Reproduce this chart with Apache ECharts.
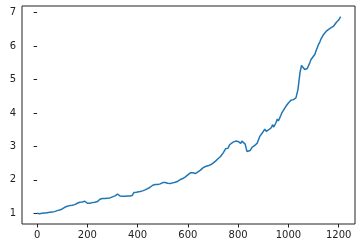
<!DOCTYPE html>
<html>
<head>
<meta charset="utf-8">
<script src="https://cdn.jsdelivr.net/npm/echarts@6/dist/echarts.min.js"></script>
<style>
html,body{margin:0;padding:0;background:#fff;}
#chart{width:362px;height:248px;}
</style>
</head>
<body>
<div id="chart"></div>
<script>
var xs = [0,10,20,30,40,50,60,70,80,90,100,110,120,130,140,150,160,170,180,190,195,200,210,220,230,240,250,260,270,280,290,300,310,320,330,340,350,360,370,378,385,395,410,420,430,440,450,460,470,480,490,500,510,520,530,540,550,560,570,580,590,600,610,620,630,640,650,660,670,680,690,700,710,720,730,740,750,756,760,766,770,780,790,800,805,810,815,820,828,835,840,848,856,866,876,881,886,896,906,912,922,932,937,942,950,956,960,970,975,980,990,1000,1010,1020,1030,1038,1046,1052,1058,1065,1075,1085,1090,1095,1105,1112,1120,1125,1130,1140,1150,1160,1165,1170,1180,1186,1192,1196,1200,1208];
var ys = [1.00,0.99,1.00,1.01,1.02,1.03,1.04,1.05,1.08,1.10,1.13,1.18,1.21,1.23,1.24,1.26,1.30,1.33,1.34,1.36,1.37,1.30,1.30,1.32,1.33,1.35,1.42,1.44,1.44,1.45,1.46,1.49,1.52,1.57,1.52,1.51,1.51,1.52,1.52,1.53,1.62,1.63,1.65,1.67,1.70,1.74,1.78,1.84,1.86,1.86,1.88,1.92,1.92,1.90,1.89,1.91,1.93,1.96,2.01,2.04,2.09,2.15,2.21,2.21,2.19,2.24,2.29,2.36,2.40,2.42,2.45,2.50,2.56,2.63,2.70,2.80,2.93,2.98,2.95,3.05,3.08,3.13,3.16,3.15,3.19,3.09,3.16,3.15,3.07,2.85,2.90,2.88,2.98,3.03,3.10,3.06,3.30,3.40,3.52,3.45,3.50,3.56,3.65,3.58,3.70,3.82,3.76,3.93,4.02,3.98,4.20,4.30,4.38,4.40,4.45,4.70,5.20,5.42,5.44,5.30,5.33,5.50,5.60,5.58,5.75,5.90,6.05,6.12,6.22,6.35,6.44,6.50,6.48,6.55,6.60,6.57,6.72,6.68,6.78,6.88];
var xTicks = [0,200,400,600,800,1000,1200];
var yTicks = [1,2,3,4,5,6,7];

var data = xs.map(function(x,i){return [x, ys[i]];});
var chart = echarts.init(document.getElementById('chart'), null, {renderer:'canvas'});
var fmt = function(v){return String(v);};
chart.setOption({
  animation:false,
  grid:{left:22, top:6, right:7, bottom:24, show:true, borderColor:'#222', borderWidth:1, backgroundColor:'#fff'},
  xAxis:{
    type:'value', min:-60, max:1265,
    axisLine:{show:false},
    splitLine:{show:false},
    axisTick:{show:true, inside:false, length:3.5, customValues:xTicks, lineStyle:{color:'#222'}},
    axisLabel:{margin:6, customValues:xTicks, formatter:fmt, color:'#222', fontSize:10, fontFamily:'DejaVu Sans'}
  },
  yAxis:{
    type:'value', min:0.68, max:7.2,
    axisLine:{show:false},
    splitLine:{show:false},
    axisTick:{show:true, inside:false, length:3.5, customValues:yTicks, lineStyle:{color:'#222'}},
    axisLabel:{margin:6, customValues:yTicks, formatter:fmt, color:'#222', fontSize:10, fontFamily:'DejaVu Sans'}
  },
  series:[{
    type:'line', data:data, showSymbol:false, symbol:'none',
    lineStyle:{color:'#1f77b4', width:1.5},
    itemStyle:{color:'#1f77b4'}
  }]
});
</script>
</body>
</html>
